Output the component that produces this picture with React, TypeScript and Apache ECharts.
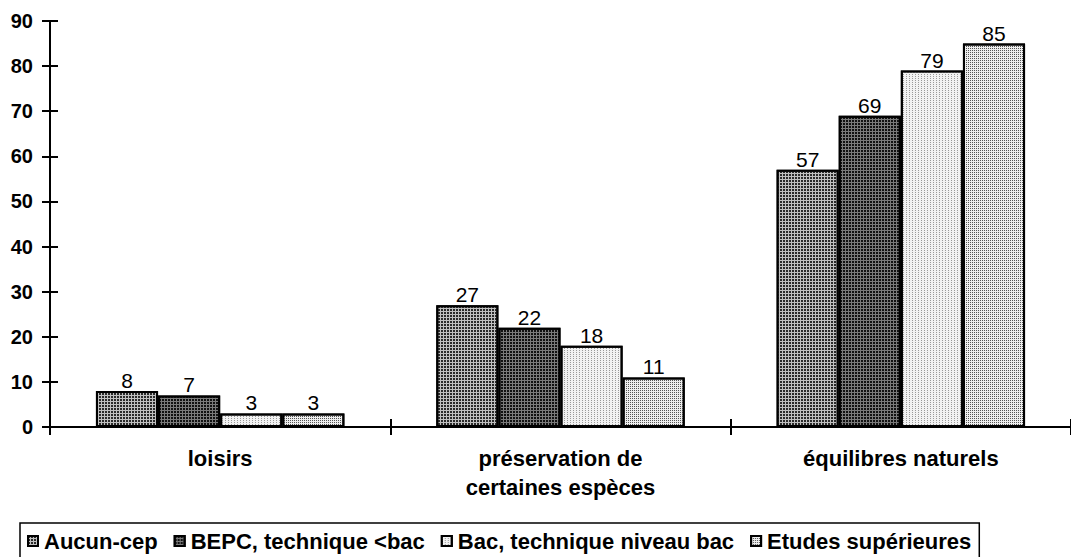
import React, { useEffect, useRef } from "react";
import * as echarts from "echarts";

const categories = ["loisirs", "préservation de\ncertaines espèces", "équilibres naturels"];
const seriesNames = ["Aucun-cep", "BEPC, technique <bac", "Bac, technique niveau bac", "Etudes supérieures"];
const aucunCep = [8, 27, 57];
const bepc = [7, 22, 69];
const bac = [3, 18, 79];
const etudes = [3, 11, 85];
const yTicks = { min: 0, max: 90, interval: 10 };

const FONT = "'Liberation Sans', Arial, sans-serif";

const styles = [
  { color: "#c0c0c0", decal: "#2a2a2a", dx: [2, 1], dy: [2, 1] },
  { color: "#7a7a7a", decal: "#111111", dx: [2, 1], dy: [2, 1] },
  { color: "#f2f2f2", decal: "#999999", dx: [1, 2], dy: [1, 1] },
  { color: "#eeeeee", decal: "#555555", dx: [1, 1], dy: [1, 1] },
];

export default function App() {
  const ref = useRef<HTMLDivElement>(null);
  useEffect(() => {
    const chart = echarts.init(ref.current!, null, { renderer: "svg" });
    const values = [aucunCep, bepc, bac, etudes];
    const series = values.map((v, i) => ({
      name: seriesNames[i],
      type: "bar",
      data: v,
      xAxisIndex: 0,
      yAxisIndex: 0,
      barGap: "0%",
      barCategoryGap: "27%",
      itemStyle: {
        color: styles[i].color,
        borderColor: "#000",
        borderWidth: 2,
        decal: {
          symbol: "rect",
          symbolSize: 1,
          color: styles[i].decal,
          dashArrayX: styles[i].dx,
          dashArrayY: styles[i].dy,
        },
      },
      label: {
        show: true,
        position: "top",
        distance: 0,
        color: "#000",
        fontFamily: FONT,
        fontSize: 21,
      },
    }));
    chart.setOption({
      animation: false,
      backgroundColor: "#fff",
      grid: { left: 50, right: 0, top: 21, bottom: 130 },
      legend: {
        left: 20,
        top: 523,
        orient: "horizontal",
        icon: "rect",
        itemWidth: 10,
        itemHeight: 10,
        itemGap: 16,
        padding: [7, 8, 12, 7],
        borderColor: "#000",
        borderWidth: 1.5,
        textStyle: {
          fontFamily: FONT,
          fontSize: 22,
          fontWeight: "bold",
          color: "#000",
          padding: [0, 0, 0, 1],
        },
        data: seriesNames,
      },
      xAxis: [
        {
          type: "category",
          data: categories,
          axisLine: { lineStyle: { color: "#000", width: 2 } },
          axisTick: { show: true, length: 8, lineStyle: { color: "#000", width: 2 } },
          axisLabel: {
            color: "#000",
            fontFamily: FONT,
            fontSize: 22,
            fontWeight: "bold",
            margin: 17,
            lineHeight: 29,
          },
        },
        {
          type: "category",
          data: categories,
          position: "bottom",
          axisLine: { show: false },
          axisTick: { show: true, inside: true, length: 8, lineStyle: { color: "#000", width: 2 } },
          axisLabel: { show: false },
        },
      ],
      yAxis: [
        {
          type: "value",
          min: yTicks.min,
          max: yTicks.max,
          interval: yTicks.interval,
          splitLine: { show: false },
          axisLine: { show: true, lineStyle: { color: "#000", width: 2 } },
          axisTick: { show: true, length: 8, lineStyle: { color: "#000", width: 2 } },
          axisLabel: { color: "#000", fontFamily: FONT, fontSize: 20, fontWeight: "bold", margin: 17 },
        },
        {
          type: "value",
          position: "left",
          min: yTicks.min,
          max: yTicks.max,
          interval: yTicks.interval,
          splitLine: { show: false },
          axisLine: { show: false },
          axisTick: { show: true, inside: true, length: 8, lineStyle: { color: "#000", width: 2 } },
          axisLabel: { show: false },
        },
      ],
      series,
    });
    return () => chart.dispose();
  }, []);
  return (
    <div
      ref={ref}
      style={{ position: "fixed", left: 0, top: 0, width: 1071, height: 557, background: "#fff" }}
    />
  );
}
